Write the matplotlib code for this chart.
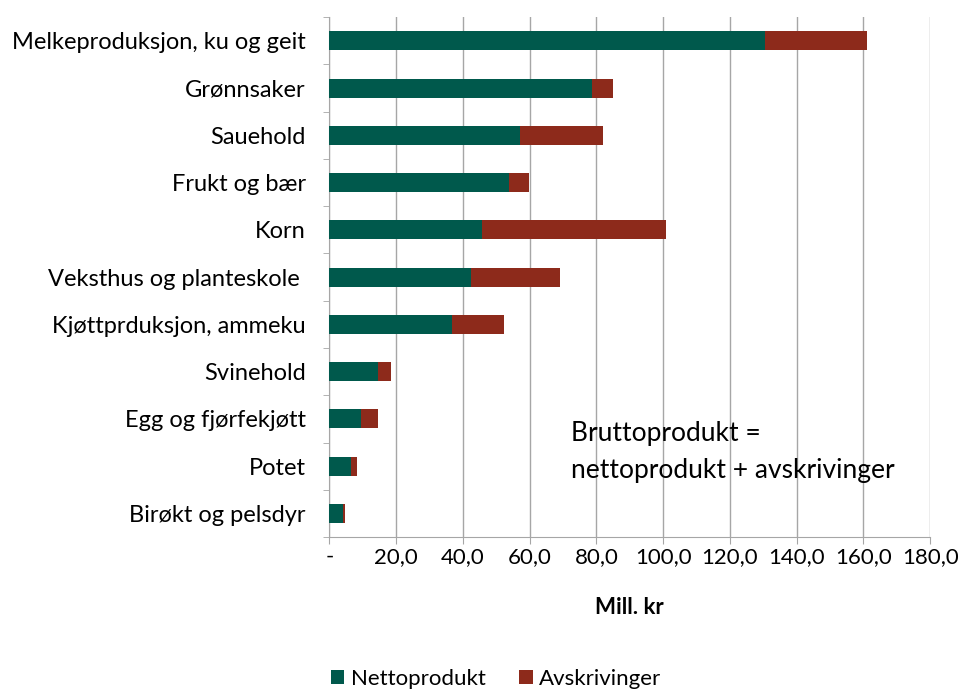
import numpy as np
import matplotlib.pyplot as plt
from matplotlib.ticker import FixedLocator, FuncFormatter

plt.rcParams['font.family'] = ['Lato', 'DejaVu Sans']

kategorier = ['Melkeproduksjon, ku og geit', 'Grønnsaker', 'Sauehold', 'Frukt og bær',
              'Korn', 'Veksthus og planteskole ', 'Kjøttprduksjon, ammeku', 'Svinehold',
              'Egg og fjørfekjøtt', 'Potet', 'Birøkt og pelsdyr']
netto = [130.5, 78.8, 57.2, 53.9, 45.8, 42.5, 36.9, 14.7, 9.6, 6.5, 4.2]
brutto = [161.2, 84.9, 82.1, 59.7, 100.8, 69.2, 52.3, 18.6, 14.6, 8.3, 4.7]
avskr = [b - n for b, n in zip(brutto, netto)]

gronn = '#00594c'
rod = '#8d2a1b'
grid_c = '#a6a6a6'

fig = plt.figure(figsize=(9.6, 6.89), dpi=100)
ax = fig.add_axes([0.343, 0.2206, 0.626, 0.7544])

y = np.arange(len(kategorier))
ax.barh(y, netto, height=0.4, color=gronn, label='Nettoprodukt', zorder=3)
ax.barh(y, avskr, left=netto, height=0.4, color=rod, label='Avskrivinger', zorder=3)

ax.set_xlim(0, 180)
ax.set_ylim(len(kategorier) - 0.5, -0.5)
ax.set_xticks(np.arange(0, 181, 20))
ax.xaxis.set_major_formatter(FuncFormatter(
    lambda v, p: '-' if v == 0 else f'{v:.1f}'.replace('.', ',')))
ax.grid(axis='x', color=grid_c, linewidth=1, zorder=0)

ax.set_yticks(y)
ax.set_yticklabels(kategorier)
ax.yaxis.set_minor_locator(FixedLocator(np.arange(-0.5, len(kategorier), 1)))
ax.tick_params(axis='y', which='major', length=0, pad=17, labelsize=17)
ax.tick_params(axis='y', which='minor', length=4, color=grid_c)
ax.tick_params(axis='x', length=5, color=grid_c, labelsize=16, pad=2)

for s in ['top', 'right']:
    ax.spines[s].set_visible(False)
for s in ['left', 'bottom']:
    ax.spines[s].set_color(grid_c)

ax.set_xlabel('Mill. kr', fontsize=16, fontweight='bold', labelpad=22)

ax.text(72.5, 8.05, 'Bruttoprodukt =\nnettoprodukt + avskrivinger',
        fontsize=19, va='top', ha='left', linespacing=1.6)

fig.legend(loc='center', bbox_to_anchor=(0.517, 0.015), ncol=2, frameon=False,
           fontsize=16, handlelength=0.6, handleheight=0.6, handletextpad=0.3,
           columnspacing=1.5)

fig.savefig('out.png', dpi=100)
